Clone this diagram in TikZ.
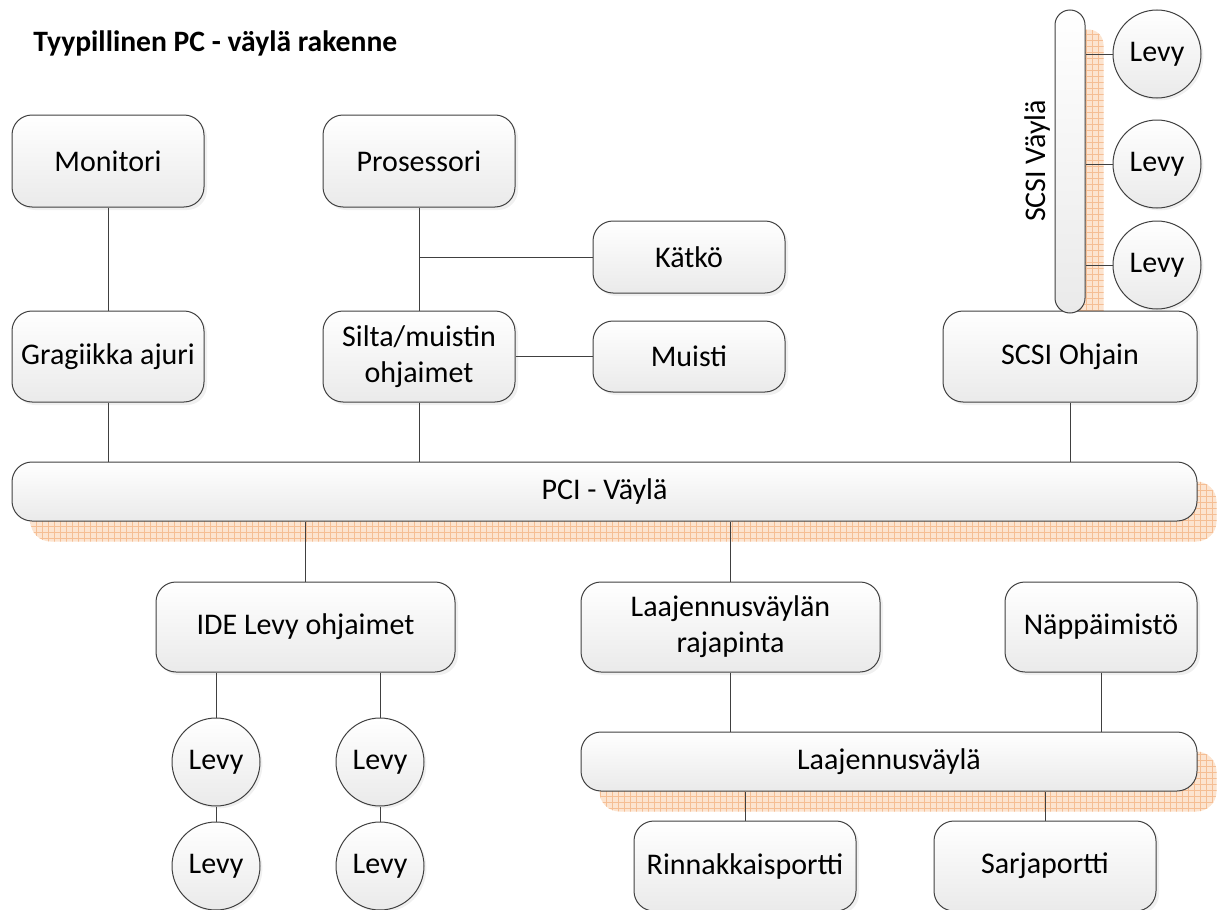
\documentclass[tikz,border=0pt]{standalone}
\usepackage{fontspec}
\setmainfont{Carlito}
\usetikzlibrary{shadows,patterns,backgrounds,calc}

\definecolor{edge}{RGB}{64,64,64}
\definecolor{boxbot}{RGB}{234,234,234}
\definecolor{peach}{RGB}{252,228,208}
\definecolor{peachline}{RGB}{245,190,148}

\tikzset{
  lbl/.style={font=\fontsize{15}{18}\selectfont},
  box/.style={lbl, draw=edge, line width=0.5pt, rounded corners=10pt,
    top color=white, bottom color=boxbot, align=center, inner sep=0pt,
    drop shadow={opacity=0.12, shadow xshift=1.5pt, shadow yshift=-1.5pt}},
  bus/.style={lbl, draw=edge, line width=0.5pt, rounded corners=10pt,
    top color=white, bottom color=boxbot, inner sep=0pt},
  disk/.style={lbl, circle, draw=edge, line width=0.5pt, top color=white,
    bottom color=boxbot, minimum size=44pt, inner sep=0pt,
    drop shadow={opacity=0.12, shadow xshift=1.2pt, shadow yshift=-1.2pt}},
  wire/.style={draw=edge, line width=0.5pt},
  bshadow/.style={fill=peach, postaction={pattern=grid, pattern color=peachline},
    rounded corners=10pt}
}

\begin{document}
\begin{tikzpicture}[x=0.5pt, y=-0.5pt]
\useasboundingbox (0,0) rectangle (1223,910);
\begin{scope}
\clip (0,0) rectangle (1223,910);

% title
\node[anchor=west, font=\bfseries\fontsize{14.8}{17}\selectfont, inner sep=0pt] (title) at (33,43) {Tyypillinen PC - väylä rakenne};

% upper boxes
\node[box, minimum width=96pt, minimum height=46pt] (mon) at (108,161) {Monitori};
\node[box, minimum width=96pt, minimum height=46pt] (pro) at (419,161) {Prosessori};
\node[box, minimum width=96pt, minimum height=36pt] (kat) at (689,257) {Kätkö};
\node[box, minimum width=96pt, minimum height=45.5pt] (gra) at (108,356.5) {Gragiikka ajuri};
\node[box, minimum width=96pt, minimum height=45.5pt] (sil) at (419,356.5) {Silta/muistin\\ohjaimet};
\node[box, minimum width=96pt, minimum height=35.5pt] (mui) at (689,356.5) {Muisti};
\node[box, minimum width=127pt, minimum height=45.5pt] (sco) at (1070,356.5) {SCSI Ohjain};

% SCSI bus
\node[bus, rounded corners=7.5pt, minimum width=15pt, minimum height=151.5pt] (sbus) at (1070,161.5) {};
\node[lbl, rotate=90, inner sep=0pt] (sbl) at (1037,161) {SCSI Väylä};
\node[disk] (s1) at (1157,54) {Levy};
\node[disk] (s2) at (1157,164) {Levy};
\node[disk] (s3) at (1157,265) {Levy};

% PCI bus
\node[bus, minimum width=592.5pt, minimum height=29.5pt] (pci) at (604.5,491.5) {PCI - Väylä};

% lower boxes
\node[box, minimum width=149.5pt, minimum height=45pt] (ide) at (305.5,627) {IDE Levy ohjaimet};
\node[box, minimum width=149.5pt, minimum height=45pt] (lra) at (730.5,627) {Laajennusväylän\\rajapinta};
\node[box, minimum width=96pt, minimum height=45pt] (nap) at (1101,627) {Näppäimistö};

\node[bus, minimum width=308pt, minimum height=29.5pt] (lbus) at (889,761.5) {Laajennusväylä};

\node[box, minimum width=111pt, minimum height=45pt] (rin) at (745,866) {Rinnakkaisportti};
\node[box, minimum width=111pt, minimum height=45pt] (sar) at (1045,866) {Sarjaportti};

% IDE disks
\node[disk] (d1) at (216,762) {Levy};
\node[disk] (d2) at (216,866) {Levy};
\node[disk] (d3) at (380,762) {Levy};
\node[disk] (d4) at (380,866) {Levy};

% bus shadows
\begin{scope}[on background layer]
  \path[bshadow] ([shift={(9.5pt,-10pt)}]pci.south west) rectangle ([shift={(9.5pt,-10pt)}]pci.north east);
  \path[bshadow] ([shift={(9.5pt,-10pt)}]lbus.south west) rectangle ([shift={(9.5pt,-10pt)}]lbus.north east);
  \path[bshadow, rounded corners=7.5pt] ([shift={(9pt,-10pt)}]sbus.south west) rectangle ([shift={(9pt,-10pt)}]sbus.north east);
\end{scope}

% connectors
\draw[wire] (mon) -- (gra);
\draw[wire] (pro) -- (sil);
\draw[wire] (kat.west) -- (kat.west -| pro);
\draw[wire] (sil) -- (mui);
\draw[wire] (gra) -- (gra |- pci.north);
\draw[wire] (sil) -- (sil |- pci.north);
\draw[wire] (sco) -- (sco |- pci.north);
\draw[wire] (s1) -- (s1 -| sbus.east);
\draw[wire] (s2) -- (s2 -| sbus.east);
\draw[wire] (s3) -- (s3 -| sbus.east);
\draw[wire] (ide) -- (ide |- pci.south);
\draw[wire] (lra) -- (lra |- pci.south);
\draw[wire] (lra) -- (lra |- lbus.north);
\draw[wire] (nap) -- (nap |- lbus.north);
\draw[wire] (rin) -- (rin |- lbus.south);
\draw[wire] (sar) -- (sar |- lbus.south);
\draw[wire] (d1) -- (d1 |- ide.south);
\draw[wire] (d3) -- (d3 |- ide.south);
\draw[wire] (d1) -- (d2);
\draw[wire] (d3) -- (d4);
\end{scope}
\end{tikzpicture}
\end{document}
